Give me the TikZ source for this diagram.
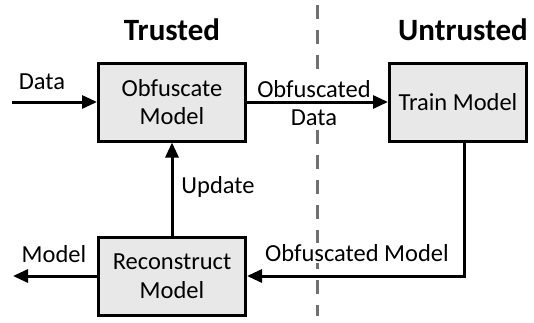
\documentclass[tikz,border=0pt]{standalone}
\usepackage{fontspec}
\setmainfont{Carlito}
\usetikzlibrary{arrows.meta}
\begin{document}
\begin{tikzpicture}[x=1pt,y=-1pt,
  box/.style={draw=black,line width=3pt,fill=boxgray,inner sep=0pt,
    minimum width=147pt,minimum height=78pt,align=center,
    font=\fontsize{24.5}{28.5}\selectfont},
  flow/.style={line width=3pt,-{Triangle[length=15pt,width=13pt]}},
  lbl/.style={font=\fontsize{24.5}{28.5}\selectfont,inner sep=1pt,align=center,fill=white},
  title/.style={font=\bfseries\fontsize{31}{35}\selectfont,inner sep=0pt},
  divider/.style={line width=3pt,draw=divgray,dash pattern=on 14pt off 11pt}]
\definecolor{boxgray}{HTML}{E8E8E8}
\definecolor{divgray}{HTML}{707070}
\useasboundingbox (0,0) rectangle (534,322);

% trust boundary
\coordinate (dtop) at (317,5);
\coordinate (dbot) at (317,316);
\draw[divider] (dtop) -- (dbot);

\node[title] (trusted) at (172,30) {Trusted};
\node[title] (untrusted) at (463,30) {Untrusted};

\node[box] (obf) at (172,102) {Obfuscate\\Model};
\node[box,minimum width=137pt] (train) at (458,102) {Train Model};
\node[box] (rec) at (172,276) {Reconstruct\\Model};

% labels sit on white so the boundary line passes behind them
\node[lbl] (ldata) at (42,82) {Data};
\node[lbl] (lodata) at (314,103) {Obfuscated\\Data};
\node[lbl] (lomodel) at (357,253) {Obfuscated Model};
\node[lbl] (lupdate) at (218,187) {Update};
\node[lbl] (lmodel) at (54,254) {Model};

% external input and output
\coordinate (din) at (12,102);
\coordinate (mout) at (13,276);
\draw[flow] (din) -- (obf.west);
\draw[flow] (rec.west) -- (mout);

\draw[flow] (obf.east) -- (train.west);
\draw[flow] (train.south -| 464,0) |- (rec.east);
\draw[flow] (rec.north) -- (obf.south);
\end{tikzpicture}
\end{document}
